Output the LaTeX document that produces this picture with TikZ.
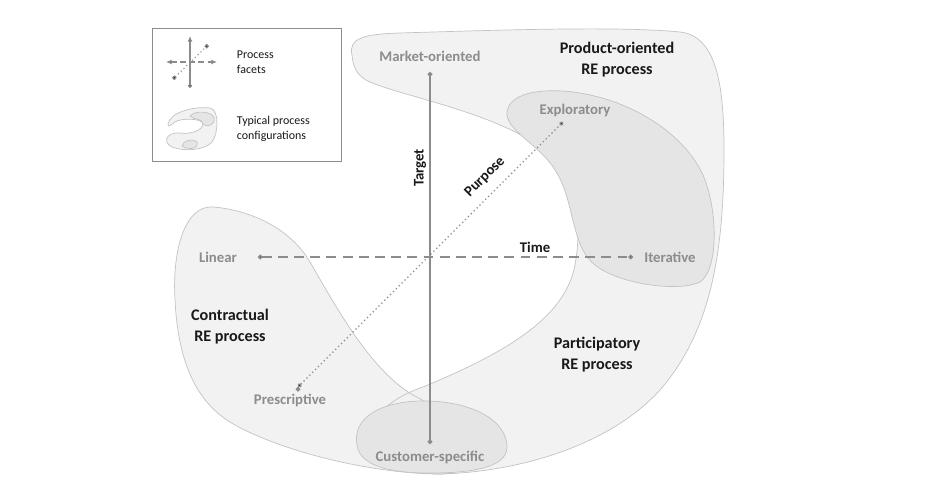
\documentclass[tikz,border=0pt]{standalone}
\usepackage{fontspec}
\setmainfont{Carlito}
\usetikzlibrary{arrows.meta}
\definecolor{axis_gray}{RGB}{140,140,140}
\definecolor{label_gray}{RGB}{140,140,140}
\definecolor{edge_gray}{RGB}{195,195,195}
\definecolor{blob_light}{RGB}{242,242,242}
\definecolor{blob_dark}{RGB}{229,229,229}
\definecolor{text_dark}{RGB}{25,25,25}

\begin{document}
\begin{tikzpicture}[x=0.025cm,y=-0.025cm,line join=round]
    \tikzstyle{blob}=[fill=blob_light]
    \tikzstyle{rim}=[draw=edge_gray,line width=0.5pt]
    \tikzstyle{core}=[fill=blob_dark,draw=edge_gray,line width=0.5pt]
    \tikzstyle{facet}=[draw=axis_gray,{Circle[length=3.2pt]}-{Circle[length=3.2pt]}]
    \tikzstyle{pole}=[text=label_gray,font=\fontsize{10.5}{12}\selectfont\bfseries]
    \tikzstyle{axislabel}=[text=text_dark,font=\fontsize{10.5}{12}\selectfont\bfseries]
    \tikzstyle{config}=[text=text_dark,align=center,font=\fontsize{11.5}{15}\selectfont\bfseries]
    \tikzstyle{legendtext}=[text=text_dark,align=left,anchor=west,font=\fontsize{8.5}{11}\selectfont]

    \useasboundingbox (0,0) rectangle (928,487);

    % typical process configurations
    \def\crescent{(352,55) .. controls (348,38) and (365,34) .. (400,33)
      .. controls (500,30) and (620,26) .. (680,32)
      .. controls (715,36) and (724,80) .. (724,150)
      .. controls (724,250) and (712,330) .. (660,390)
      .. controls (610,445) and (520,472) .. (440,474)
      .. controls (395,474) and (368,452) .. (366,428)
      .. controls (383,406) and (400,395) .. (423,387)
      .. controls (500,355) and (565,320) .. (575,265)
      .. controls (585,210) and (570,160) .. (530,140)
      .. controls (480,110) and (400,95) .. (370,82)
      .. controls (358,77) and (353,68) .. cycle}
    \def\contract{(213,207) .. controls (250,210) and (290,228) .. (310,262)
      .. controls (335,305) and (370,370) .. (413,395)
      .. controls (450,415) and (480,430) .. (470,460)
      .. controls (465,472) and (450,474) .. (440,474)
      .. controls (380,474) and (290,455) .. (235,425)
      .. controls (195,403) and (178,360) .. (175,300)
      .. controls (172,250) and (185,205) .. cycle}
    \path[blob] \crescent;
    \path[blob] \contract;
    \path[rim] \crescent;
    \path[rim] \contract;
    \path[core] (507,112) .. controls (510,90) and (550,88) .. (580,93)
      .. controls (640,103) and (690,140) .. (705,180)
      .. controls (718,215) and (718,270) .. (700,282)
      .. controls (680,292) and (620,285) .. (595,265)
      .. controls (570,245) and (575,200) .. (555,170)
      .. controls (540,145) and (505,130) .. cycle;
    \path[core] (357,445) .. controls (352,418) and (380,402) .. (420,401)
      .. controls (470,400) and (508,420) .. (507,448)
      .. controls (506,468) and (470,473) .. (430,473)
      .. controls (390,473) and (360,466) .. cycle;

    % facet end points
    \coordinate (mo) at (430,72);
    \coordinate (cs) at (430,444);
    \coordinate (li) at (258,257);
    \coordinate (it) at (633,257);
    \coordinate (pr) at (298,387);
    \coordinate (ex) at (563,122);

    \path[facet]
     (mo) edge[line width=1.2pt] (cs)
     (li) edge[line width=1pt,dash pattern=on 7pt off 4.5pt] (it)
     (pr) edge[line width=0.9pt,dotted] (ex);

    \node[pole] (Mo) at (430,56)  {Market-oriented};
    \node[pole] (Cs) at (430,457) {Customer-specific};
    \node[pole] (Li) at (218,257) {Linear};
    \node[pole] (It) at (670,257) {Iterative};
    \node[pole] (Ex) at (575,110) {Exploratory};
    \node[pole] (Pr) at (290,400) {Prescriptive};

    \node[axislabel,rotate=90] (T) at (420,168) {Target};
    \node[axislabel,rotate=45] (P) at (485,177) {Purpose};
    \node[axislabel]           (Z) at (535,247) {Time};

    \node[config] (PO) at (617,60)  {Product-oriented\\RE process};
    \node[config] (CR) at (230,327) {Contractual\\RE process};
    \node[config] (PA) at (597,355) {Participatory\\RE process};

    % legend
    \node[draw=axis_gray,fill=white,line width=0.6pt,minimum width=4.725cm,minimum height=3.325cm,inner sep=0pt]
      (legend) at (246.5,94.5) {};
    \coordinate (lt) at (190,36);
    \coordinate (lb) at (190,88);
    \coordinate (ll) at (166,62);
    \coordinate (lr) at (217,62);
    \coordinate (lp) at (173,79);
    \coordinate (le) at (208,45);
    \path[draw=axis_gray,line width=0.8pt]
     (lb) edge[{Circle[length=3pt]}-{Latex[length=4pt,width=3.5pt]}] (lt)
     (ll) edge[{Latex[length=4pt,width=3.5pt]}-{Latex[length=4pt,width=3.5pt]},dash pattern=on 4pt off 2.5pt] (lr)
     (lp) edge[{Square[length=2.5pt]}-{Square[length=2.5pt]},dotted] (le);
    \path[blob,rim] (168,124) .. controls (170,112) and (195,106) .. (210,108)
      .. controls (220,110) and (218,135) .. (212,142)
      .. controls (205,150) and (185,152) .. (172,147)
      .. controls (163,143) and (165,132) .. (180,133)
      .. controls (190,135) and (203,130) .. (203,124)
      .. controls (203,118) and (180,118) .. (175,122)
      .. controls (171,125) and (168,128) .. cycle;
    \path[core] (190,116) .. controls (195,110) and (212,111) .. (214,118)
      .. controls (216,125) and (206,128) .. (203,124)
      .. controls (203,118) and (193,120) .. cycle;
    \path[core] (182,146) .. controls (183,140) and (193,138) .. (197,142)
      .. controls (199,148) and (190,151) .. cycle;
    \node[legendtext] (lf) at (232,62)  {Process\\facets};
    \node[legendtext] (lc) at (232,129) {Typical process\\configurations};
\end{tikzpicture}
\end{document}
